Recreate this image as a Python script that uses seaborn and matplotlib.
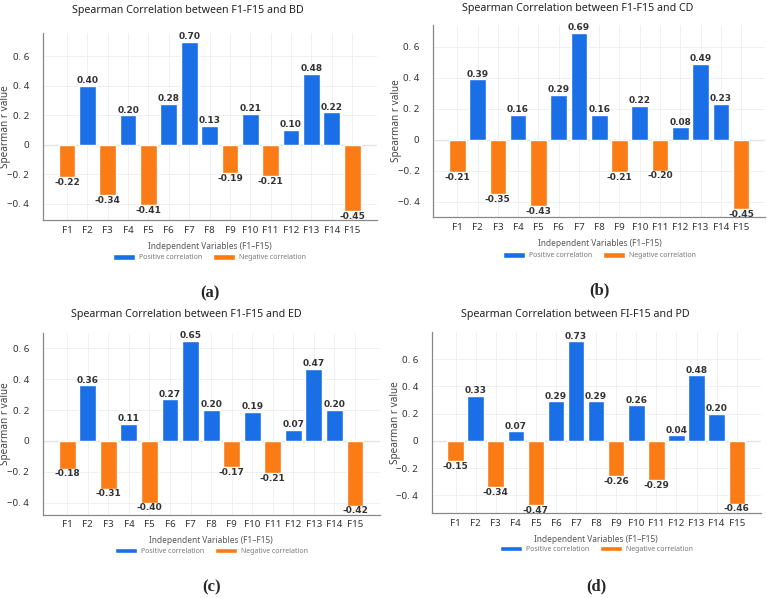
import pandas as pd
import matplotlib
matplotlib.use('Agg')
import matplotlib.pyplot as plt
import seaborn as sns

# Данные
features = ['F%d' % i for i in range(1, 16)]
bd = [-0.22, 0.40, -0.34, 0.20, -0.41, 0.28, 0.70, 0.13, -0.19, 0.21, -0.21, 0.10, 0.48, 0.22, -0.45]
cd = [-0.21, 0.39, -0.35, 0.16, -0.43, 0.29, 0.69, 0.16, -0.21, 0.22, -0.20, 0.08, 0.49, 0.23, -0.45]
ed = [-0.18, 0.36, -0.31, 0.11, -0.40, 0.27, 0.65, 0.20, -0.17, 0.19, -0.21, 0.07, 0.47, 0.20, -0.42]
pd_vals = [-0.15, 0.33, -0.34, 0.07, -0.47, 0.29, 0.73, 0.29, -0.26, 0.26, -0.29, 0.04, 0.48, 0.20, -0.46]

titles = ['Spearman Correlation between F1-F15 and BD',
          'Spearman Correlation between F1-F15 and CD',
          'Spearman Correlation between F1-F15 and ED',
          'Spearman Correlation between FI-F15 and PD']
panel_labels = ['(a)', '(b)', '(c)', '(d)']
yticks = [-0.4, -0.2, 0, 0.2, 0.4, 0.6]
ytick_labels = ['\u22120. 4', '\u22120. 2', '0', '0. 2', '0. 4', '0. 6']

pos_color = '#1a6fe6'
neg_color = '#fb7b14'

# Положение осей [left, bottom, width, height], пределы по y, положение заголовка (px)
boxes = [[0.056, 0.632, 0.435, 0.313],
         [0.565, 0.637, 0.433, 0.321],
         [0.056, 0.139, 0.439, 0.304],
         [0.563, 0.142, 0.429, 0.303]]
ylims = [(-0.51, 0.76), (-0.50, 0.74), (-0.48, 0.70), (-0.53, 0.80)]
title_xy = [(188, 10), (578, 8), (186, 315), (575, 315)]

sns.set_style('white')
plt.rcParams['font.family'] = ['Noto Sans', 'DejaVu Sans']

fig = plt.figure(figsize=(7.67, 5.98), dpi=100)

for vals, title, lab, box, yl, txy in zip([bd, cd, ed, pd_vals], titles, panel_labels,
                                          boxes, ylims, title_xy):
    ax = fig.add_axes(box)
    df = pd.DataFrame({'feature': features, 'r': vals})
    df['sign'] = ['Positive correlation' if v > 0 else 'Negative correlation' for v in vals]
    sns.barplot(data=df, x='feature', y='r', hue='sign',
                hue_order=['Positive correlation', 'Negative correlation'],
                palette=[pos_color, neg_color], dodge=False, width=0.82,
                saturation=1, ax=ax)
    for cont in ax.containers:
        ax.bar_label(cont, fmt='%.2f', fontsize=6.5, fontweight='bold', color='#333333',
                     padding=0.5, family='DejaVu Sans')
    ax.axhline(0, color='#b0b0b0', lw=0.8, zorder=0)
    ax.set_xlim(-1.18, 15.2)
    ax.set_ylim(*yl)
    ax.set_yticks(yticks)
    ax.set_yticklabels(ytick_labels, fontsize=7, color='#333333')
    ax.tick_params(axis='x', labelsize=7, colors='#333333', length=0, pad=4)
    ax.tick_params(axis='y', length=2, width=0.6, colors='#999999', labelcolor='#333333', pad=8)
    ax.grid(True, color='#eeeeee', lw=0.6)
    ax.set_axisbelow(True)
    for s in ['top', 'right']:
        ax.spines[s].set_visible(False)
    for s in ['left', 'bottom']:
        ax.spines[s].set_color('#888888')
        ax.spines[s].set_linewidth(0.9)
    fig.text(txy[0] / 767, 1 - txy[1] / 598, title, ha='center', va='center',
             fontsize=7.7, color='#222222')
    ax.set_ylabel('Spearman r value', fontsize=7.2, color='#444444')
    ax.yaxis.set_label_coords(-0.095, 0.5)
    ax.set_xlabel('Independent Variables (F1\u2013F15)', fontsize=6, color='#555555', labelpad=5)
    ax.legend(loc='center', bbox_to_anchor=(0.5, -0.2), ncol=2, frameon=False,
              fontsize=5, labelcolor='#777777', handlelength=3.2, handleheight=0.9,
              columnspacing=1.5, handletextpad=0.6)
    h = box[3] * 598
    ax.text(0.5, -73 / h, lab, transform=ax.transAxes, ha='center', va='center',
            fontsize=12, fontweight='bold', family='Liberation Serif')

fig.savefig('out.png', dpi=100)
